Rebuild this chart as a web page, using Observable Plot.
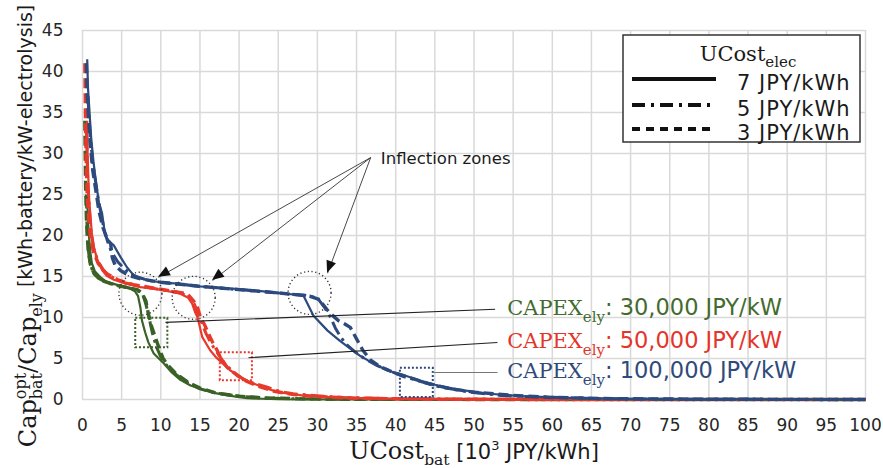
<!DOCTYPE html>
<html><head><meta charset="utf-8">
<script src="https://cdn.jsdelivr.net/npm/d3@7"></script>
<script src="https://cdn.jsdelivr.net/npm/@observablehq/plot@0.6"></script>
<style>
html,body{margin:0;padding:0;background:#fff;}
#chart{position:relative;width:883px;height:468px;overflow:hidden;}
svg{display:block}
</style></head><body><div id="chart"></div>
<script>
// ---------- data ----------
const xTicks = [0,5,10,15,20,25,30,35,40,45,50,55,60,65,70,75,80,85,90,95,100];
const yTicks = [0,5,10,15,20,25,30,35,40,45];

// CAPEX_ely = 30,000 JPY/kW (green)
const green7 = [[0.6,24.3],[0.7,22],[0.8,20.2],[1.0,18],[1.2,16.6],[1.6,15.6],[2.3,14.9],[3,14.4],[4,14.1],[5,13.8],[6.1,13.5],[6.7,13.2],[7.1,12.6],[7.4,11.2],[7.6,9.6],[8.0,8.2],[8.4,7.0],[9.1,5.6],[10.4,4.4],[11.4,3.3],[12.5,2.4],[13.8,1.7],[15.1,1.3],[16.8,0.8],[18.5,0.5],[21,0.15],[25,0.03],[30,0],[100,0]];
const green5 = [[0.5,25],[0.55,22],[0.65,19],[0.9,17],[1.3,15.6],[2,14.8],[3,14.3],[4.5,13.9],[6,13.6],[7,13.3],[7.7,12.8],[8.1,11.6],[8.5,10],[8.9,8.2],[9.4,6.5],[10,5.2],[10.8,4.1],[12,3],[13.5,2],[15,1.3],[17,0.8],[20,0.4],[24,0.15],[30,0.05],[40,0],[100,0]];
const green3 = [[0.3,34],[0.35,30],[0.4,26],[0.5,22],[0.7,18.5],[1.0,16.5],[1.5,15.3],[2.5,14.5],[4,14],[5.5,13.7],[7,13.4],[7.6,13],[8.1,12],[8.4,10.5],[8.8,9],[9.3,7.6],[9.8,6.2],[10.3,5],[10.9,4.2],[12,3.1],[13.5,2.1],[15,1.4],[17,0.8],[20,0.4],[23,0.2],[28,0.08],[35,0.02],[60,0],[100,0]];

// CAPEX_ely = 50,000 JPY/kW (red)
const red7 = [[0.6,34],[0.65,30],[0.75,27],[0.8,25.2],[1.0,22.5],[1.2,20.2],[1.5,18.4],[1.9,17],[2.5,15.8],[3.1,15.1],[4,14.6],[5.3,14.2],[7.4,13.7],[10,13.4],[12.5,12.9],[13.5,12.4],[14.0,11.7],[14.4,10.6],[14.7,10],[15.3,7.6],[16.3,6],[17.1,5.1],[17.9,4.4],[18.8,3.6],[19.9,2.9],[21,2.3],[23,1.5],[25,0.9],[28,0.5],[32,0.25],[38,0.1],[50,0.02],[60,0],[100,0]];
const red5 = [[0.5,33],[0.6,29],[0.7,26],[0.9,23],[1.1,20.5],[1.4,18.5],[2,16.8],[2.8,15.6],[4,14.8],[5.5,14.2],[7.5,13.8],[10,13.4],[12.5,13],[13.6,12.5],[14.3,11.6],[14.8,10.3],[15.2,9.4],[15.8,8],[16.5,6.7],[17.3,5.6],[18.2,4.3],[19.5,3.2],[20.5,2.5],[21.8,2.0],[23.6,1.5],[25.3,0.95],[26.9,0.7],[30.8,0.4],[33.3,0.25],[40,0.1],[50,0.03],[65,0],[100,0]];
const red3 = [[0.3,41],[0.35,37],[0.4,33],[0.5,28],[0.6,25],[0.8,22],[1.0,20],[1.4,18],[2,16.6],[3,15.4],[4.5,14.6],[6.5,14],[9,13.6],[11.5,13.2],[13.4,12.9],[14.2,12],[14.7,11.2],[15.1,9.9],[15.6,9.1],[16.1,8],[16.6,7],[17.2,6],[17.6,5.1],[18.5,3.9],[19.8,2.9],[21,2.2],[22.5,1.6],[24.5,1.0],[27,0.6],[30,0.35],[35,0.15],[45,0.04],[60,0],[100,0]];

// CAPEX_ely = 100,000 JPY/kW (blue)
const blue7 = [[0.6,41.5],[0.7,38],[0.9,35],[1.1,32],[1.4,29],[1.7,26.7],[2.1,24],[2.5,22.7],[2.9,20],[3.4,19.3],[4.0,18.8],[4.9,17.3],[5.7,16.1],[6.5,15.2],[7.4,14.8],[8.5,14.5],[10,14.3],[12.5,14.1],[15,13.8],[18,13.6],[21,13.4],[24,13.1],[26,12.9],[28.2,12.7],[29.5,10.2],[31.3,8.4],[32.8,7.2],[34.2,6.2],[35.5,5.3],[36.4,4.8],[38,4],[39,3.5],[40.6,3.1],[42.8,2.4],[45,1.8],[48,1.2],[52,0.7],[56,0.4],[62,0.2],[70,0.08],[80,0.02],[100,0]];
const blue5 = [[0.7,37],[0.8,35],[1.0,32],[1.3,29],[1.6,27],[2.0,24.5],[2.4,22.5],[2.8,20.5],[3.3,19],[3.7,18],[4.5,16.8],[5.5,15.8],[6.8,15],[8.5,14.5],[10,14.3],[15,13.8],[20,13.4],[25,13],[28.5,12.7],[30,12.4],[31,11.1],[31.7,10],[32.3,8.7],[33,7.6],[33.6,6.8],[34.8,5.8],[36,5],[37.5,4.2],[39.5,3.4],[41,2.8],[42.8,2.3],[45.7,1.5],[49.5,0.9],[53.4,0.5],[57,0.35],[61,0.25],[66,0.1],[75,0.03],[100,0]];
const blue3 = [[0.5,41],[0.6,37],[0.8,34],[1.0,31],[1.3,28],[1.7,25.5],[2.1,23],[2.6,21],[3.2,19.5],[3.6,19],[3.8,17.3],[4.2,16.3],[4.9,15.7],[6,15.1],[7.5,14.7],[10,14.3],[15,13.8],[20,13.4],[25,13],[29,12.6],[30.2,12.2],[31.2,11],[32,10.2],[32.7,9.6],[33.5,9.2],[34.2,8.8],[35,7.4],[35.8,6],[36.8,4.8],[38,4],[40,3.2],[42,2.6],[44,2],[47,1.3],[50,0.9],[55,0.5],[60,0.25],[68,0.1],[80,0.03],[100,0]];

// annotations
const circleX = [7.4, 14.2, 29.0];
const circleY = [12.9, 12.4, 13.0];
const boxX1 = [6.8, 17.6, 40.6];
const boxX2 = [10.9, 21.7, 44.8];
const boxY1 = [6.3, 2.3, 0.25];
const boxY2 = [9.9, 5.7, 3.8];
const leaderX1 = [10.6, 21.2, 44.7];
const leaderY1 = [9.4, 5.1, 3.3];
const leaderX2 = [52.7, 53.0, 53.0];
const leaderY2 = [11.0, 6.95, 3.3];
const capexValues = ["30,000 JPY/kW", "50,000 JPY/kW", "100,000 JPY/kW"];
const capexLabelX = 54.3;
const capexLabelY = [10.25, 6.2, 2.55];
const inflectionText = "Inflection zones";
const inflectionFrom = [36.8, 29.5];
const inflectionToX = [9.7, 16.6, 31.3];
const inflectionToY = [14.9, 14.5, 15.4];
const legendLabels = ["7 JPY/kWh", "5 JPY/kWh", "3 JPY/kWh"];

// ---------- styles ----------
const GREEN = "#3a6126", RED = "#e63a2c", BLUE = "#2c4a7e";
const TXT_GREEN = "#436b2e", TXT_RED = "#e3352a", TXT_BLUE = "#2f4a7b";
const SERIF = "'DejaVu Serif', serif";
const SANS = "'DejaVu Sans', sans-serif";
const styleOf = {
  solid: {w: 2.2, dash: null},
  dashdot: {w: 3, dash: "14,5,3,5"},
  dashed: {w: 3.4, dash: "10,5"}
};
const series = [
  {d: green3, c: GREEN, s: "dashed"}, {d: green5, c: GREEN, s: "dashdot"}, {d: green7, c: GREEN, s: "solid"},
  {d: red3, c: RED, s: "dashed"}, {d: red5, c: RED, s: "dashdot"}, {d: red7, c: RED, s: "solid"},
  {d: blue3, c: BLUE, s: "dashed"}, {d: blue5, c: BLUE, s: "dashdot"}, {d: blue7, c: BLUE, s: "solid"}
];
const boxColors = [GREEN, RED, BLUE];
const leaderColors = ["#222", "#222", "#777"];
const labelColors = [TXT_GREEN, TXT_RED, TXT_BLUE];

const marks = [
  Plot.ruleX(xTicks, {stroke: "#d9d9d9", strokeWidth: 1.5}),
  Plot.ruleY(yTicks, {stroke: "#d9d9d9", strokeWidth: 1.5}),
  ...series.map(s => Plot.line(s.d, {
    x: d => d[0], y: d => d[1], stroke: s.c,
    strokeWidth: styleOf[s.s].w, strokeDasharray: styleOf[s.s].dash,
    strokeLinecap: "butt", strokeLinejoin: "round", curve: "linear"
  })),
  Plot.dot(circleX, {x: d => d, y: (d, i) => circleY[i], r: 21.5, fill: "none",
    stroke: "#333", strokeWidth: 1.4, strokeDasharray: "1.2,2.6"}),
  ...boxX1.map((v, i) => Plot.rect([i], {x1: () => boxX1[i], x2: () => boxX2[i], y1: () => boxY1[i], y2: () => boxY2[i],
    fill: "none", stroke: boxColors[i], strokeWidth: 2, strokeDasharray: "2,2"})),
  ...leaderX1.map((v, i) => Plot.link([i], {x1: () => leaderX1[i], y1: () => leaderY1[i], x2: () => leaderX2[i], y2: () => leaderY2[i],
    stroke: leaderColors[i], strokeWidth: 1.1})),
  Plot.link(inflectionToX, {x1: () => inflectionFrom[0], y1: () => inflectionFrom[1], x2: d => d, y2: (d, i) => inflectionToY[i],
    stroke: "#333", strokeWidth: 0.9}),
  Plot.text([inflectionText], {x: () => inflectionFrom[0] + 1.3, y: () => inflectionFrom[1], text: d => d,
    textAnchor: "start", fontSize: 16.5, fill: "#1a1a1a", dy: 1})
];

const plot = Plot.plot({
  width: 883, height: 468,
  marginLeft: 82, marginRight: 18, marginTop: 30, marginBottom: 69,
  style: {fontFamily: SANS, fontSize: "17px", color: "#262626", background: "#fff", overflow: "visible"},
  x: {domain: [0, 100], ticks: xTicks, tickSize: 0, tickPadding: 19, label: null},
  y: {domain: [0, 45], ticks: yTicks, tickSize: 0, tickPadding: 19, label: null},
  marks
});
document.getElementById("chart").appendChild(plot);

const svg = d3.select(plot.tagName.toLowerCase() === "svg" ? plot : plot.querySelector("svg"));
const xs = plot.scale("x"), ys = plot.scale("y");

// arrowheads for inflection arrows (filled triangles) via the plot scales
const ax0 = xs.apply(inflectionFrom[0]), ay0 = ys.apply(inflectionFrom[1]);
inflectionToX.forEach((vx, i) => {
  const tx = xs.apply(vx), ty = ys.apply(inflectionToY[i]);
  const ang = Math.atan2(ty - ay0, tx - ax0);
  const L = 12, W = 5;
  const bx = tx - L * Math.cos(ang), by = ty - L * Math.sin(ang);
  const px = -Math.sin(ang) * W, py = Math.cos(ang) * W;
  svg.append("path").attr("d", `M${tx},${ty}L${bx + px},${by + py}L${bx - px},${by - py}Z`).attr("fill", "#111");
});

// rich text helper (left-anchored pieces)
function rich(parent, parts) {
  let cx = 0, lastStart = 0;
  for (const p of parts) {
    const x0 = p.stack ? lastStart : cx;
    const el = parent.append("text").attr("x", x0).attr("y", p.shift || 0)
      .attr("text-anchor", "start")
      .attr("font-family", p.family).attr("font-size", p.size)
      .attr("fill", p.fill || "#1a1a1a").attr("xml:space", "preserve")
      .style("white-space", "pre").text(p.t);
    const w = el.node().getComputedTextLength();
    if (p.stack) cx = Math.max(cx, lastStart + w);
    else { lastStart = cx; cx += w; }
  }
  return cx;
}

// CAPEX labels
capexValues.forEach((v, i) => {
  const g = svg.append("g").attr("transform", `translate(${xs.apply(capexLabelX)},${ys.apply(capexLabelY[i])})`);
  rich(g, [
    {t: "CAPEX", family: SERIF, size: 21, fill: labelColors[i]},
    {t: "ely", family: SERIF, size: 15, shift: 7, fill: labelColors[i]},
    {t: ": " + v, family: SANS, size: 22.5, fill: labelColors[i]}
  ]);
});

// legend box
const lg = svg.append("g");
lg.append("rect").attr("x", 623).attr("y", 35).attr("width", 237).attr("height", 107)
  .attr("fill", "#fff").attr("stroke", "#333").attr("stroke-width", 1.5);
const tg = lg.append("g");
const tw = rich(tg, [
  {t: "UCost", family: SERIF, size: 21},
  {t: "elec", family: SERIF, size: 15, shift: 6}
]);
tg.attr("transform", `translate(${748 - tw / 2},61)`);
const legendStyles = ["solid", "dashdot", "dashed"];
const legendDash = {solid: null, dashdot: "13,6,3,6", dashed: "8,6"};
const legendLineY = [79, 105, 129];
legendLabels.forEach((t, i) => {
  lg.append("line").attr("x1", 632).attr("x2", 716).attr("y1", legendLineY[i]).attr("y2", legendLineY[i])
    .attr("stroke", "#111").attr("stroke-width", 4).attr("stroke-dasharray", legendDash[legendStyles[i]]);
  lg.append("text").attr("x", 737).attr("y", legendLineY[i] + 11).attr("text-anchor", "start")
    .attr("font-family", SANS).attr("font-size", 21).attr("letter-spacing", 1)
    .attr("fill", "#1a1a1a").text(t);
});

// x-axis title
const xg = svg.append("g");
const xw = rich(xg, [
  {t: "UCost", family: SERIF, size: 24},
  {t: "bat", family: SERIF, size: 15.5, shift: 6},
  {t: " [10", family: SANS, size: 21},
  {t: "3", family: SANS, size: 13, shift: -9},
  {t: " JPY/kWh]", family: SANS, size: 21}
]);
xg.attr("transform", `translate(${474 - xw / 2},459)`);

// y-axis title
const yg = svg.append("g");
const yw = rich(yg, [
  {t: "Cap", family: SERIF, size: 24},
  {t: "opt", family: SERIF, size: 16, shift: -10},
  {t: "bat", family: SERIF, size: 16, shift: 6, stack: true},
  {t: "/Cap", family: SERIF, size: 24},
  {t: "ely", family: SERIF, size: 16, shift: 6},
  {t: " [kWh-battery/kW-electrolysis]", family: SANS, size: 19, shift: -4}
]);
yg.attr("transform", `translate(36,${226 + yw / 2}) rotate(-90)`);
</script></body></html>
